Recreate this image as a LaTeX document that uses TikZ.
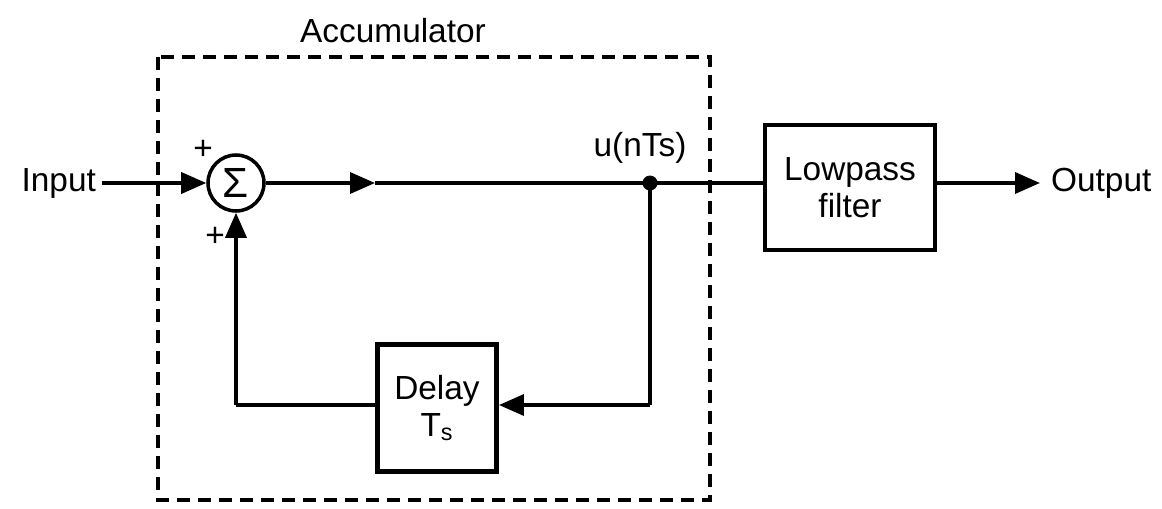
\documentclass[tikz,border=0pt]{standalone}
\usepackage{fontspec}
\setmainfont{Liberation Sans}
\usetikzlibrary{positioning, shapes, arrows.meta}

\begin{document}
\begin{tikzpicture}[
  font=\fontsize{19}{21}\selectfont,
  block/.style={draw, rectangle, line width=2.8pt, minimum width=2.38cm, minimum height=2.54cm, align=center, inner sep=2pt},
  sumnode/.style={draw, circle, line width=2pt, minimum size=1.12cm, inner sep=0pt, font=\fontsize{24}{26}\selectfont},
  lbl/.style={inner sep=1pt, align=center},
  line/.style={-, line width=2pt},
  arr/.style={line width=2pt, -{Triangle[length=0.5cm, width=0.42cm]}},
  accbox/.style={draw, line width=2.2pt, dash pattern=on 0.26cm off 0.16cm}
]
\useasboundingbox (0,0) rectangle (23.24,-10.16);

% accumulator frame
\draw[accbox] (3.16,-1.14) rectangle (14.2,-10.0);
\node[lbl] (acc) at (7.86,-0.62) {Accumulator};

\node[sumnode] (sum) at (4.72,-3.66) {Σ};
\node[lbl, anchor=east] (in) at (1.96,-3.66) {Input};
\node[lbl] (p1) at (4.06,-3.0) {+};
\node[lbl] (p2) at (4.3,-4.74) {+};

\coordinate (mid) at (7.5,-3.66);
\fill (13.0,-3.66) circle (0.15cm) coordinate (tap);
\node[lbl] (u) at (12.8,-2.96) {u(nTs)};

\node[block, minimum width=3.4cm, minimum height=2.5cm] (lpf) at (17.0,-3.75) {Lowpass\\filter};
\node[lbl, anchor=west] (out) at (20.98,-3.66) {Output};

\node[block] (delay) at (8.74,-8.16) {Delay\\T\textsubscript{s}};
\coordinate (c1) at (13.0,-8.1);
\coordinate (c2) at (4.72,-8.1);

\draw[arr, shorten <=0.08cm] (in.east) -- (sum.west);
\draw[arr] (sum.east) -- (mid);
\draw[line] (mid) -- (lpf.west |- mid);
\draw[arr, shorten >=0.18cm] (lpf.east |- out) -- (out.west);
\draw[line] (tap) -- (c1);
\draw[arr] (c1) -- (delay.east |- c1);
\draw[line] (delay.west |- c2) -- (c2);
\draw[arr] (c2) -- (sum.south);
\end{tikzpicture}
\end{document}
